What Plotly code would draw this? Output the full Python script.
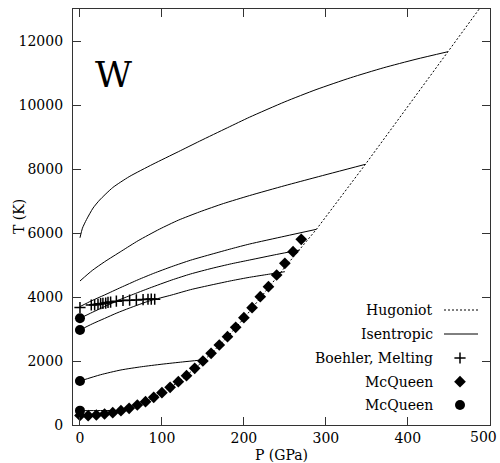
import plotly.graph_objects as go

# ---- data -------------------------------------------------------------
# Hugoniot of tungsten (P in GPa, T in K)
hugoniot_P = [0, 20, 40, 60, 80, 100, 120, 140, 160, 180, 200, 221, 250, 288.5, 348.3, 449, 490]
hugoniot_T = [300, 315, 385, 515, 720, 1000, 1340, 1760, 2230, 2750, 3330, 4010, 4930, 6115, 8147, 11666, 13100]

# Release isentropes, each starting at P = 0 and ending on the Hugoniot
isen1_P = [0, 3, 8, 16, 24, 40, 60, 89, 120, 146, 180, 207, 250, 288, 330, 370, 410, 449]
isen1_T = [5850, 6150, 6420, 6780, 7030, 7420, 7760, 8150, 8540, 8870, 9290, 9620, 10100, 10480, 10850, 11160, 11430, 11666]
isen2_P = [0, 15, 30, 51, 71, 97, 120, 146, 175, 207, 250, 288, 348.3]
isen2_T = [4500, 4830, 5100, 5440, 5760, 6120, 6400, 6660, 6920, 7170, 7480, 7740, 8147]
isen3_P = [0, 14, 30, 50, 71, 90, 112, 135, 161, 185, 207, 250, 288.5]
isen3_T = [3700, 3880, 4063, 4300, 4540, 4740, 4950, 5150, 5340, 5510, 5656, 5900, 6115]
isen4_P = [0, 15, 30, 45, 63, 85, 112, 135, 161, 185, 207, 240, 268]
isen4_T = [3334, 3520, 3700, 3880, 4063, 4280, 4531, 4720, 4896, 5040, 5156, 5330, 5469]
isen5_P = [0, 15, 30, 45, 60, 85, 112, 135, 161, 185, 207, 230, 250]
isen5_T = [2969, 3160, 3330, 3500, 3650, 3880, 4063, 4230, 4380, 4510, 4616, 4710, 4791]
isen6_P = [0, 25, 50, 75, 100, 125, 148]
isen6_T = [1374, 1570, 1720, 1820, 1900, 1970, 2031]
isen7_P = [0, 25, 48]
isen7_T = [448, 452, 455]

# Boehler melting curve
boehler_P = [0, 13.8, 17.9, 22, 25.2, 28, 31.4, 34.2, 37.4, 44.4, 52.5, 60.6, 68.8, 77, 83, 87, 91.2]
boehler_T = [3670, 3750, 3755, 3770, 3790, 3800, 3810, 3830, 3840, 3870, 3890, 3900, 3910, 3920, 3930, 3935, 3930]

# McQueen shock temperatures (diamonds)
mcq_shock_P = list(range(0, 280, 10))
mcq_shock_T = [300, 290, 313, 344, 384, 447, 522, 625, 728, 866,
               1009, 1178, 1353, 1541, 1772, 2000, 2241, 2500, 2759, 3053,
               3353, 3666, 4009, 4322, 4688, 5053, 5416, 5803]

# McQueen release temperatures at zero pressure (circles)
mcq_rel_P = [0, 0, 0, 0]
mcq_rel_T = [448, 1374, 2969, 3334]

x_ticks = [0, 100, 200, 300, 400, 500]
y_ticks = [0, 2000, 4000, 6000, 8000, 10000, 12000]

legend_labels = ["Hugoniot", "Isentropic", "Boehler, Melting", "McQueen", "McQueen"]

# ---- figure -----------------------------------------------------------
FONT = "DejaVu Serif"
W, H = 500, 463
ML, MR, MT, MB = 73, 10, 9, 38
PW, PH = W - ML - MR, H - MT - MB


def px_x(px):
    return (px - ML) / PW


def px_y(py):
    return (H - MB - py) / PH


fig = go.Figure()

fig.add_trace(go.Scatter(x=hugoniot_P, y=hugoniot_T, mode="lines",
                         line=dict(color="black", width=1, dash="2px,2px"),
                         showlegend=False, hoverinfo="skip"))

for p, t in [(isen1_P, isen1_T), (isen2_P, isen2_T), (isen3_P, isen3_T),
             (isen4_P, isen4_T), (isen5_P, isen5_T), (isen6_P, isen6_T),
             (isen7_P, isen7_T)]:
    fig.add_trace(go.Scatter(x=p, y=t, mode="lines",
                             line=dict(color="black", width=1, shape="spline", smoothing=0.6),
                             showlegend=False, hoverinfo="skip"))

fig.add_trace(go.Scatter(x=boehler_P, y=boehler_T, mode="markers",
                         marker=dict(symbol="cross-thin", size=8,
                                     line=dict(color="black", width=1.5)),
                         showlegend=False))
fig.add_trace(go.Scatter(x=mcq_shock_P, y=mcq_shock_T, mode="markers",
                         marker=dict(symbol="diamond", size=9, color="black"),
                         showlegend=False))
fig.add_trace(go.Scatter(x=mcq_rel_P, y=mcq_rel_T, mode="markers",
                         marker=dict(symbol="circle", size=10, color="black"),
                         showlegend=False, cliponaxis=False))

# ---- hand-built legend (text on the left, sample on the right) --------
leg_rows_y = [310, 334, 358, 381.7, 405]
leg_text_right = 435
leg_sample_x0, leg_sample_x1, leg_marker_x = 444, 478, 460

annotations = []
for label, ry in zip(legend_labels, leg_rows_y):
    annotations.append(dict(xref="paper", yref="paper", x=px_x(leg_text_right), y=px_y(ry),
                            text=label, showarrow=False, xanchor="right", yanchor="middle",
                            font=dict(family=FONT, size=14, color="black")))

shapes = [
    dict(type="line", xref="paper", yref="paper",
         x0=px_x(leg_sample_x0), x1=px_x(leg_sample_x1), y0=px_y(leg_rows_y[0]), y1=px_y(leg_rows_y[0]),
         line=dict(color="black", width=1, dash="2px,2px")),
    dict(type="line", xref="paper", yref="paper",
         x0=px_x(leg_sample_x0), x1=px_x(leg_sample_x1), y0=px_y(leg_rows_y[1]), y1=px_y(leg_rows_y[1]),
         line=dict(color="black", width=1)),
]

leg_symbols = [("cross-thin", 8), ("diamond", 9), ("circle", 10)]
for (sym, sz), ry in zip(leg_symbols, leg_rows_y[2:]):
    fig.add_trace(go.Scatter(x=[px_x(leg_marker_x)], y=[px_y(ry)], xaxis="x2", yaxis="y2",
                             mode="markers",
                             marker=dict(symbol=sym, size=sz, color="black",
                                         line=dict(color="black", width=1.5 if sym == "cross-thin" else 0)),
                             showlegend=False, hoverinfo="skip"))

# Panel label
annotations.append(dict(xref="paper", yref="paper", x=px_x(113), y=px_y(74),
                        text="W", showarrow=False, xanchor="center", yanchor="middle",
                        font=dict(family=FONT, size=36, color="black")))

# Y-axis title, placed next to the tick labels
annotations.append(dict(xref="paper", yref="paper", x=px_x(19), y=px_y(217),
                        text="T (K)", textangle=-90, showarrow=False,
                        xanchor="center", yanchor="middle",
                        font=dict(family=FONT, size=14, color="black")))

# The last x tick label sits at the page edge, so it is right-aligned to stay inside
x_ticktext = [str(v) for v in x_ticks]
last_x_label = x_ticktext[-1]
x_ticktext[-1] = ""
annotations.append(dict(xref="paper", yref="paper", x=px_x(499), y=px_y(427),
                        text=last_x_label, showarrow=False, xanchor="right", yanchor="top",
                        font=dict(family=FONT, size=14, color="black")))

axis_common = dict(showline=True, linecolor="#333333", linewidth=1.3, mirror="ticks",
                   ticks="inside", ticklen=8, tickwidth=1, tickcolor="#333333",
                   showgrid=False, zeroline=False, automargin=False,
                   tickfont=dict(family=FONT, size=14, color="black"))

fig.update_layout(
    width=W, height=H,
    margin=dict(l=ML, r=MR, t=MT, b=MB),
    paper_bgcolor="white", plot_bgcolor="white",
    showlegend=False,
    font=dict(family=FONT, size=14, color="black"),
    xaxis=dict(range=[-8.5, 500.3], tickvals=x_ticks, ticktext=x_ticktext,
               title=dict(text="P (GPa)", font=dict(family=FONT, size=14, color="black"), standoff=7),
               **axis_common),
    yaxis=dict(range=[0, 13000], tickvals=y_ticks, ticktext=[str(v) for v in y_ticks],
               ticklabelstandoff=6,
               **axis_common),
    xaxis2=dict(overlaying="x", range=[0, 1], visible=False),
    yaxis2=dict(overlaying="y", range=[0, 1], visible=False),
    annotations=annotations,
    shapes=shapes,
)

fig.write_html("out.html")
